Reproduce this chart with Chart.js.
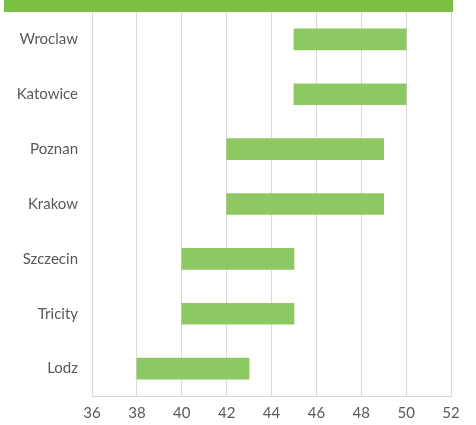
<!DOCTYPE html>
<html>
<head>
<meta charset="utf-8">
<script src="https://cdn.jsdelivr.net/npm/chart.js@4"></script>
<style>
    html, body { margin: 0; padding: 0; background: #ffffff; }
    .wrap { position: relative; width: 476px; height: 425px; }
    .banner { position: absolute; left: 4px; top: 0; width: 449px; height: 12px; background: #7bc043; }
    canvas { position: absolute; left: 0; top: 0; }
</style>
</head>
<body>
<div class="wrap">
    <canvas id="rangeChart" width="476" height="425"></canvas>
    <div class="banner"></div>
</div>
<script>
// Cities and their low / high values
const cities = ["Wroclaw", "Katowice", "Poznan", "Krakow", "Szczecin", "Tricity", "Lodz"];
const lowValues = [45, 45, 42, 42, 40, 40, 38];
const highValues = [50, 50, 49, 49, 45, 45, 43];
const xTicks = [36, 38, 40, 42, 44, 46, 48, 50, 52];

const ranges = cities.map((c, i) => [lowValues[i], highValues[i]]);

const ctx = document.getElementById("rangeChart").getContext("2d");

new Chart(ctx, {
    type: "bar",
    data: {
        labels: cities,
        datasets: [
            {
                data: ranges,
                backgroundColor: "#8dc862",
                borderWidth: 0,
                barThickness: 21
            }
        ]
    },
    options: {
        indexAxis: "y",
        responsive: false,
        animation: false,
        layout: {
            padding: { left: 0, right: 25, top: 12, bottom: 0 }
        },
        plugins: {
            legend: { display: false },
            tooltip: { enabled: false }
        },
        scales: {
            x: {
                min: xTicks[0],
                max: xTicks[xTicks.length - 1],
                afterBuildTicks: (scale) => {
                    scale.ticks = xTicks.map(v => ({ value: v }));
                },
                afterFit: (scale) => { scale.height = 29; },
                grid: { color: "#d9d9d9", lineWidth: 1, drawTicks: false },
                border: { color: "#d9d9d9" },
                ticks: {
                    padding: 8,
                    color: "#595959",
                    font: { family: "Lato", size: 15 }
                }
            },
            y: {
                afterFit: (scale) => {
                    scale.width = 92;
                    // no extra room for half a label above/below
                    scale.paddingTop = 0;
                    scale.paddingBottom = 0;
                },
                grid: { display: false, drawTicks: false },
                border: { display: false },
                ticks: {
                    padding: 14,
                    color: "#595959",
                    font: { family: "Lato", size: 15 }
                }
            }
        }
    }
});
</script>
</body>
</html>
